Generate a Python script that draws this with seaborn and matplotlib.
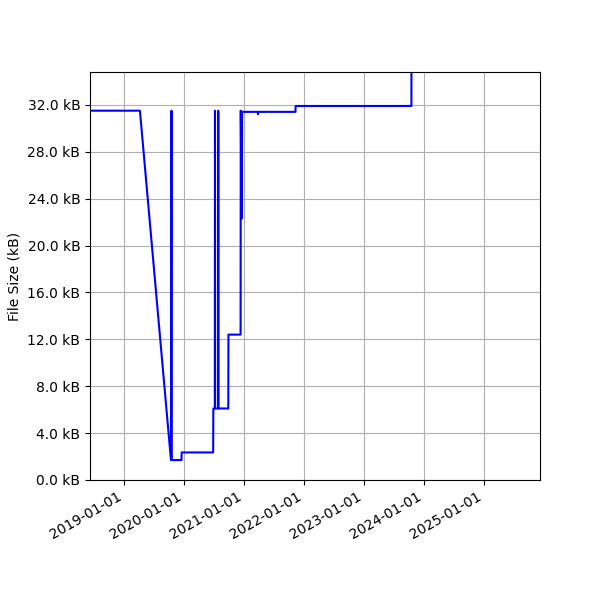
import numpy as np
import pandas as pd

import matplotlib
matplotlib.use("Agg")
import matplotlib.pyplot as plt
import matplotlib.dates as mdates
from matplotlib.ticker import FuncFormatter, MultipleLocator

import seaborn as sns

# commit dates and file size (kB)
dates = [
    "2018-06-08", "2019-04-08", "2019-10-14", "2019-10-17", "2019-10-19",
    "2019-12-17", "2019-12-18", "2020-06-27", "2020-06-28", "2020-07-07",
    "2020-07-08", "2020-07-09", "2020-07-27", "2020-07-28", "2020-07-29",
    "2020-09-27", "2020-09-28", "2020-12-11", "2020-12-12", "2020-12-17",
    "2020-12-20", "2021-03-25", "2021-03-27", "2021-03-29", "2021-11-10",
    "2021-11-11", "2023-10-17", "2023-10-18",
]
sizes_kb = [
    31.5, 31.5, 1.7, 31.5, 1.7,
    1.7, 2.35, 2.35, 6.1, 6.1,
    31.5, 6.1, 6.1, 31.5, 6.1,
    6.1, 12.4, 12.4, 31.5, 22.3,
    31.4, 31.4, 31.2, 31.4, 31.4,
    31.9, 31.9, 45.0,
]

df = pd.DataFrame({"date": pd.to_datetime(dates), "size": sizes_kb})

fig = plt.figure(figsize=(6, 6), dpi=100)
ax = fig.add_subplot(111)
sns.lineplot(data=df, x="date", y="size", ax=ax, color="blue",
             estimator=None, linewidth=1.5)

ax.set_xlim(pd.Timestamp("2018-06-08"), pd.Timestamp("2025-12-08"))
ax.set_ylim(0, 34.8)
ax.yaxis.set_major_locator(MultipleLocator(4))
ax.yaxis.set_major_formatter(FuncFormatter(lambda y, _: "{:.1f} kB".format(y)))
ax.xaxis.set_major_locator(mdates.YearLocator())
ax.xaxis.set_major_formatter(mdates.DateFormatter("%Y-%m-%d"))
ax.set_xlabel("")
ax.set_ylabel("File Size (kB)")
ax.grid(True)

fig.autofmt_xdate()
fig.subplots_adjust(left=0.15, right=0.9, top=0.88, bottom=0.2)
fig.savefig("out.png", dpi=100)
